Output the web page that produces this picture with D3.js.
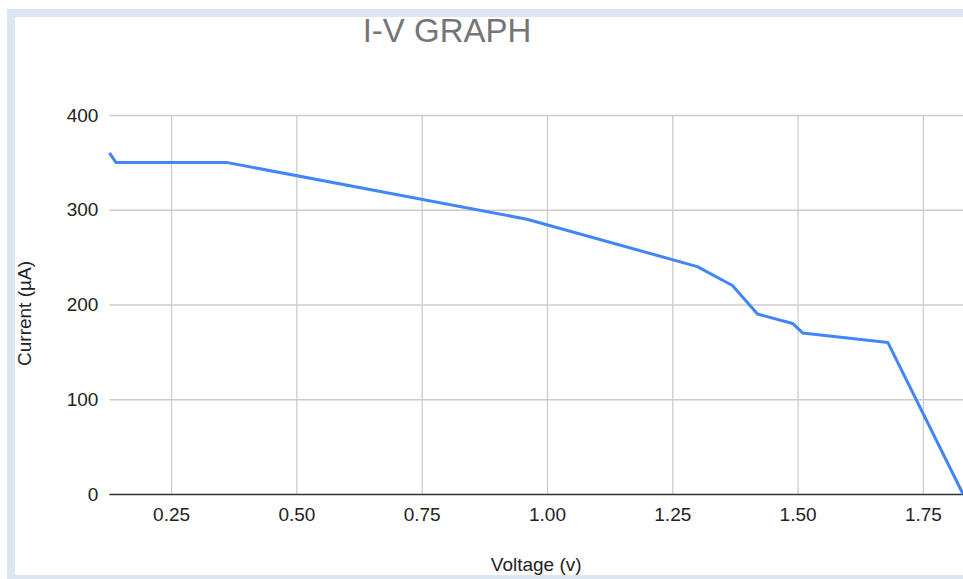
<!DOCTYPE html>
<html>
<head>
<meta charset="utf-8">
<script src="https://cdn.jsdelivr.net/npm/d3@7"></script>
<style>
  body { margin: 0; background: #fff; }
  svg { display: block; font-family: Arial, "Liberation Sans", sans-serif; }
</style>
</head>
<body>
<div id="chart"></div>
<script>
// Data
const voltage = [0.127, 0.14, 0.36, 0.96, 1.30, 1.37, 1.42, 1.49, 1.51, 1.68, 1.83];
const current = [360, 350, 350, 290, 240, 220, 190, 180, 170, 160, 0];
const xTicks = [0.25, 0.50, 0.75, 1.00, 1.25, 1.50, 1.75];
const yTicks = [0, 100, 200, 300, 400];

const width = 963;
const height = 579;

const svg = d3.select('#chart')
  .append('svg')
  .attr('width', width)
  .attr('height', height);

// Plot area (window.top is reserved, so plot* names)
const plotLeft = 109.4;
const plotRight = 963;
const plotTop = 115;
const plotBottom = 494;

const x = d3.scaleLinear()
  .domain(d3.extent(voltage))
  .range([plotLeft, plotRight]);

const y = d3.scaleLinear()
  .domain([0, 400])
  .range([plotBottom, plotTop]);

// Vertical gridlines + x tick labels
const xAxis = svg.append('g')
  .attr('transform', `translate(0,${plotBottom})`)
  .call(d3.axisBottom(x)
    .tickValues(xTicks)
    .tickFormat(d3.format('.2f'))
    .tickSize(-(plotBottom - plotTop))
    .tickPadding(14));
xAxis.select('.domain').remove();
xAxis.selectAll('.tick line').attr('stroke', '#cccccc').attr('stroke-width', 1.3);
xAxis.selectAll('.tick text')
  .attr('fill', '#222')
  .attr('font-size', '19px')
  .attr('font-family', 'Arial, "Liberation Sans", sans-serif');

// Horizontal gridlines + y tick labels
const yAxis = svg.append('g')
  .attr('transform', `translate(${plotLeft},0)`)
  .call(d3.axisLeft(y)
    .tickValues(yTicks)
    .tickSize(-(plotRight - plotLeft))
    .tickPadding(11));
yAxis.select('.domain').remove();
yAxis.selectAll('.tick line')
  .attr('stroke', (d) => (d === 0 ? '#333333' : '#cccccc'))
  .attr('stroke-width', (d) => (d === 0 ? 1.6 : 1.3));
yAxis.selectAll('.tick text')
  .attr('fill', '#222')
  .attr('font-size', '19px')
  .attr('font-family', 'Arial, "Liberation Sans", sans-serif');

// The I-V curve
const line = d3.line()
  .x((d, i) => x(voltage[i]))
  .y((d) => y(d));

svg.append('path')
  .datum(current)
  .attr('fill', 'none')
  .attr('stroke', '#4285f4')
  .attr('stroke-width', 3)
  .attr('stroke-linejoin', 'round')
  .attr('d', line);

// Axis titles
svg.append('text')
  .attr('x', (plotLeft + plotRight) / 2)
  .attr('y', 571)
  .attr('text-anchor', 'middle')
  .attr('fill', '#222')
  .attr('font-size', '19px')
  .text('Voltage (v)');

svg.append('text')
  .attr('transform', `translate(31,${(plotTop + plotBottom) / 2 + 9}) rotate(-90)`)
  .attr('text-anchor', 'middle')
  .attr('fill', '#222')
  .attr('font-size', '19px')
  .text('Current (µA)');

// Chart title
svg.append('text')
  .attr('x', 447)
  .attr('y', 42)
  .attr('text-anchor', 'middle')
  .attr('fill', '#757575')
  .attr('font-size', '33px')
  .text('I-V GRAPH');

// Light blue frame around the chart
const frame = '#dce6f2';
svg.append('rect').attr('x', 7).attr('y', 9).attr('width', width - 7).attr('height', 8).attr('fill', frame);
svg.append('rect').attr('x', 7).attr('y', 9).attr('width', 8).attr('height', height - 9).attr('fill', frame);
svg.append('rect').attr('x', 7).attr('y', 575).attr('width', width - 7).attr('height', 4).attr('fill', frame);
</script>
</body>
</html>
